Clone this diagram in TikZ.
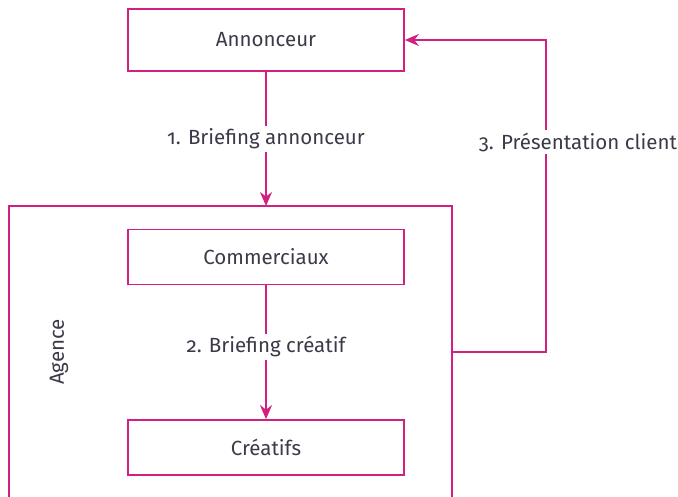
\documentclass[tikz,border=0pt]{standalone}
\usepackage{fontspec}
\setmainfont[Numbers=OldStyle]{Fira Sans}
\usetikzlibrary{arrows.meta}
\definecolor{flow}{HTML}{D1207F}
\definecolor{ink}{HTML}{3A3A48}
\tikzset{
  txt/.style={font=\fontsize{20.5}{24}\selectfont, text=ink},
  box/.style={txt, draw=flow, line width=1.7pt, minimum width=276pt, minimum height=55pt,
              inner sep=0pt},
  link/.style={draw=flow, line width=1.7pt, -{Stealth[length=14pt, width=12pt, inset=4.5pt]}},
  lab/.style={txt, fill=white, inner sep=3pt},
}
\begin{document}
\begin{tikzpicture}[x=1pt, y=-1pt]
  \useasboundingbox (0,0) rectangle (678,497);
  % agency frame, open at the bottom
  \draw[flow, line width=1.7pt] (9,510) -- (9,206) -- (452,206) -- (452,510);
  \node[txt, rotate=90] (agence) at (59,352) {Agence};
  \coordinate (agR) at (452,352);
  \coordinate (agT) at (266,206);

  \node[box, minimum height=62pt] (ann) at (266,40) {Annonceur};
  \node[box] (com) at (266,257) {Commerciaux};
  \node[box] (cre) at (266,447.5) {Créatifs};

  % return path corners
  \coordinate (cB) at (546,352);
  \coordinate (cT) at (546,40);

  \draw[link] (ann) -- node[lab] {1. Briefing annonceur} (agT);
  \draw[link] (com) -- node[lab, pos=0.46] {2. Briefing créatif} (cre);
  \draw[link] (agR) -- (cB) -- (cT) -- (ann.east);
  \node[lab] (pres) at (578,142) {3. Présentation client};
\end{tikzpicture}
\end{document}
